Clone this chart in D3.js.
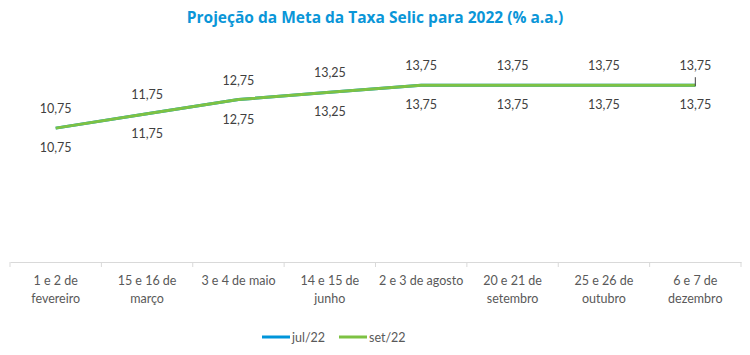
<!DOCTYPE html>
<html><head><meta charset="utf-8">
<script src="https://cdn.jsdelivr.net/npm/d3@7"></script>
<style>body{margin:0;background:#fff}</style>
</head><body>
<svg id="c" width="750" height="355"></svg>
<script>
const categories = [["1 e 2 de","fevereiro"],["15 e 16 de","março"],["3 e 4 de maio"],["14 e 15 de","junho"],["2 e 3 de agosto"],["20 e 21 de","setembro"],["25 e 26 de","outubro"],["6 e 7 de","dezembro"]];
const jul22 = [10.75, 11.75, 12.75, 13.25, 13.75, 13.75, 13.75, 13.75];
const set22 = [10.75, 11.75, 12.75, 13.25, 13.75, 13.75, 13.75, 13.75];
const seriesNames = ["jul/22", "set/22"];
const colors = ["#0095DA", "#7DC243"];

const svg = d3.select("#c");
const font = "Lato, 'Open Sans', sans-serif";
const x = d3.scaleBand().domain(d3.range(categories.length)).range([10, 741]);
const y = d3.scaleLinear().domain([0, 16]).range([282, 53]);
const axisY = 262;
const fmt = v => d3.format(".2f")(v).replace(".", ",");
const cx = i => x(i) + x.bandwidth() / 2;

svg.append("text").attr("x", 375).attr("y", 23).attr("text-anchor", "middle")
  .attr("font-family", "Open Sans, sans-serif").attr("font-weight", "bold").attr("font-size", 15.5)
  .attr("fill", "#0A96D8").text("Projeção da Meta da Taxa Selic para 2022 (% a.a.)");

// axis
const ax = svg.append("g").attr("transform", `translate(0,${axisY})`)
  .call(d3.axisBottom(x).tickSize(0).tickFormat(""));
ax.select(".domain").attr("stroke", "#d9d9d9");
const edges = d3.range(categories.length + 1).map(i => i < categories.length ? x(i) : x(categories.length - 1) + x.bandwidth());
svg.selectAll("line.tk").data(edges).join("line").attr("class", "tk")
  .attr("x1", d => d).attr("x2", d => d).attr("y1", axisY).attr("y2", axisY + 5).attr("stroke", "#d9d9d9");

categories.forEach((lines, i) => {
  const t = svg.append("text").attr("text-anchor", "middle").attr("font-family", font)
    .attr("font-size", 12.5).attr("fill", "#595959");
  lines.forEach((l, k) => t.append("tspan").attr("x", cx(i)).attr("y", 285 + k * 18).text(l));
});

const line = d3.line().x((d, i) => cx(i)).y(d => y(d));
[jul22, set22].forEach((s, si) => {
  svg.append("path").datum(s).attr("d", line).attr("fill", "none")
    .attr("stroke", colors[si]).attr("stroke-width", 3);
});
// small leader mark at last point
const last = set22.length - 1;
svg.append("line").attr("x1", cx(last)).attr("x2", cx(last))
  .attr("y1", y(set22[last]) - 8).attr("y2", y(set22[last]) + 1).attr("stroke", "#404040").attr("stroke-width", 1);

// labels
set22.forEach((v, i) => svg.append("text").attr("x", cx(i)).attr("y", y(v) - 15)
  .attr("text-anchor", "middle").attr("font-family", font).attr("font-size", 12.5).attr("fill", "#404040").text(fmt(v)));
jul22.forEach((v, i) => svg.append("text").attr("x", cx(i)).attr("y", y(v) + 24)
  .attr("text-anchor", "middle").attr("font-family", font).attr("font-size", 12.5).attr("fill", "#404040").text(fmt(v)));

// legend
const lx = [262, 339];
seriesNames.forEach((n, i) => {
  svg.append("line").attr("x1", lx[i]).attr("x2", lx[i] + 28).attr("y1", 337).attr("y2", 337)
    .attr("stroke", colors[i]).attr("stroke-width", 3);
  svg.append("text").attr("x", lx[i] + 30).attr("y", 341.5).attr("font-family", font)
    .attr("font-size", 12.5).attr("fill", "#595959").text(n);
});
</script>
</body></html>
